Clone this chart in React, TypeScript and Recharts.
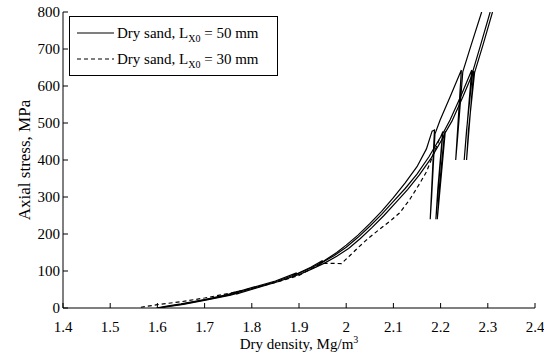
import { LineChart, Line, XAxis, YAxis, Legend, Label } from 'recharts';

type Pt = [number, number];

// [dry density Mg/m3, axial stress MPa], in test order (unload/reload loops included)
const sand50a: Pt[] = [
  [1.598, 0], [1.62, 5], [1.65, 11], [1.7, 23], [1.75, 37], [1.77, 45], [1.765, 40],
  [1.773, 45], [1.8, 55], [1.85, 73], [1.895, 95], [1.889, 88], [1.898, 94],
  [1.925, 110], [1.95, 128], [1.946, 120], [1.955, 129], [1.98, 150], [2.0, 170],
  [2.025, 197], [2.05, 228], [2.075, 261], [2.1, 298], [2.125, 338], [2.15, 382],
  [2.17, 430], [2.182, 478], [2.187, 481], [2.178, 240], [2.181, 300], [2.188, 470],
  [2.199, 508], [2.22, 570], [2.244, 643], [2.232, 400], [2.236, 460], [2.247, 638],
  [2.265, 712], [2.287, 800],
];

const sand50b: Pt[] = [
  [1.6, 0], [1.62, 4], [1.65, 10], [1.7, 22], [1.75, 35], [1.8, 52], [1.85, 71],
  [1.9, 94], [1.925, 108], [1.95, 124], [1.975, 142], [2.0, 164], [2.025, 191],
  [2.05, 221], [2.075, 253], [2.1, 288], [2.125, 323], [2.15, 362], [2.175, 408],
  [2.2, 462], [2.205, 477], [2.19, 240], [2.194, 320], [2.204, 470], [2.22, 508],
  [2.243, 573], [2.266, 643], [2.25, 400], [2.255, 480], [2.268, 638], [2.285, 712],
  [2.305, 800],
];

const sand50c: Pt[] = [
  [1.603, 0], [1.625, 4], [1.655, 10], [1.705, 22], [1.755, 35], [1.77, 40],
  [1.767, 37], [1.775, 41], [1.805, 52], [1.855, 71], [1.905, 93], [1.93, 107],
  [1.955, 122], [1.98, 140], [2.005, 161], [2.03, 188], [2.055, 218], [2.08, 250],
  [2.105, 285], [2.13, 320], [2.155, 360], [2.18, 405], [2.205, 460],
  [2.21, 478], [2.193, 240], [2.197, 320], [2.208, 470], [2.224, 505],
  [2.247, 570], [2.27, 640], [2.255, 400], [2.259, 480], [2.272, 636], [2.29, 712],
  [2.31, 800],
];

const sand30: Pt[] = [
  [1.565, 2], [1.6, 9], [1.65, 17], [1.7, 27], [1.75, 39], [1.8, 53], [1.85, 69],
  [1.9, 88], [1.923, 104], [1.945, 118], [1.955, 121], [1.99, 120], [2.008, 142],
  [2.025, 163], [2.043, 184], [2.06, 202], [2.08, 222], [2.097, 239], [2.114, 258],
  [2.135, 294], [2.156, 337], [2.17, 368], [2.18, 400], [2.197, 455],
];

const densityTicks = [1.4, 1.5, 1.6, 1.7, 1.8, 1.9, 2, 2.1, 2.2, 2.3, 2.4];
const stressTicks = [0, 100, 200, 300, 400, 500, 600, 700, 800];

const legendItems = [
  { length: '50 mm', dash: undefined },
  { length: '30 mm', dash: '4 3' },
];

const FONT = "'Liberation Serif', 'Times New Roman', Times, 'DejaVu Serif', serif";
const tickStyle = { fontSize: 15, fill: '#000', style: { fontFamily: FONT } };

const toRows = (pts: Pt[]) => pts.map(([density, stress]) => ({ density, stress }));

const LegendBox = () => (
  <div
    style={{
      width: 209,
      boxSizing: 'border-box',
      border: '1px solid #000',
      background: '#fff',
      padding: '3px 0 3px 7px',
      fontFamily: FONT,
      fontSize: 15,
      color: '#000',
    }}
  >
    {legendItems.map((item) => (
      <div key={item.length} style={{ display: 'flex', alignItems: 'center', height: 26, lineHeight: '15px' }}>
        <svg width={37} height={4} style={{ marginRight: 3 }}>
          <line x1={0} y1={2} x2={37} y2={2} stroke="#000" strokeWidth={1.2} strokeDasharray={item.dash} />
        </svg>
        <span>
          Dry sand, L<sub style={{ fontSize: 10, lineHeight: 0 }}>X0</sub> = {item.length}
        </span>
      </div>
    ))}
  </div>
);

const XTitle = (props: any) => {
  const { x, y, width } = props.viewBox;
  return (
    <text x={x + width / 2} y={y + 41} textAnchor="middle" style={{ fontFamily: FONT }} fontSize={15} fill="#000">
      Dry density, Mg/m<tspan dy={-6} fontSize={10}>3</tspan>
    </text>
  );
};

const YTitle = (props: any) => {
  const { x, y, height } = props.viewBox;
  const cx = x + 30;
  const cy = y + height / 2;
  return (
    <text x={cx} y={cy} transform={`rotate(-90 ${cx} ${cy})`} textAnchor="middle" style={{ fontFamily: FONT }} fontSize={17} fill="#000">
      Axial stress, MPa
    </text>
  );
};

const series = [
  { id: 'a', pts: sand50a, dash: undefined },
  { id: 'b', pts: sand50b, dash: undefined },
  { id: 'c', pts: sand50c, dash: undefined },
  { id: 'd', pts: sand30, dash: '4 3' },
];

export default function App() {
  return (
    <div style={{ position: 'absolute', left: 0, top: 0, background: '#fff', fontFamily: FONT }}>
      <LineChart width={544} height={354} margin={{ top: 12, right: 9, bottom: 0, left: 0 }} style={{ fontFamily: FONT }}>
        <XAxis
          dataKey="density"
          type="number"
          domain={[1.4, 2.4]}
          ticks={densityTicks}
          allowDataOverflow
          height={46}
          tickSize={-5}
          tickMargin={18}
          tick={tickStyle}
          stroke="#000"
          interval={0}
        >
          <Label content={XTitle} />
        </XAxis>
        <XAxis
          xAxisId="top"
          orientation="top"
          dataKey="density"
          type="number"
          domain={[1.4, 2.4]}
          ticks={densityTicks}
          allowDataOverflow
          height={0}
          tickSize={-5}
          tick={false}
          stroke="#000"
          interval={0}
        />
        <YAxis
          type="number"
          domain={[0, 800]}
          ticks={stressTicks}
          allowDataOverflow
          width={63}
          tickSize={-5}
          tickMargin={8}
          tick={tickStyle}
          stroke="#000"
          interval={0}
        >
          <Label content={YTitle} />
        </YAxis>
        <YAxis
          yAxisId="right"
          orientation="right"
          type="number"
          domain={[0, 800]}
          ticks={stressTicks}
          allowDataOverflow
          width={0}
          tickSize={-5}
          tick={false}
          stroke="#000"
          interval={0}
        />
        <Legend
          content={LegendBox}
          layout="vertical"
          align="center"
          verticalAlign="middle"
          wrapperStyle={{ left: 69, top: 16, width: 'auto' }}
        />
        {series.map((s) => (
          <Line
            key={s.id}
            data={toRows(s.pts)}
            dataKey="stress"
            type="linear"
            dot={false}
            activeDot={false}
            stroke="#000"
            strokeWidth={1.2}
            strokeDasharray={s.dash}
            isAnimationActive={false}
            legendType="none"
          />
        ))}
      </LineChart>
    </div>
  );
}
